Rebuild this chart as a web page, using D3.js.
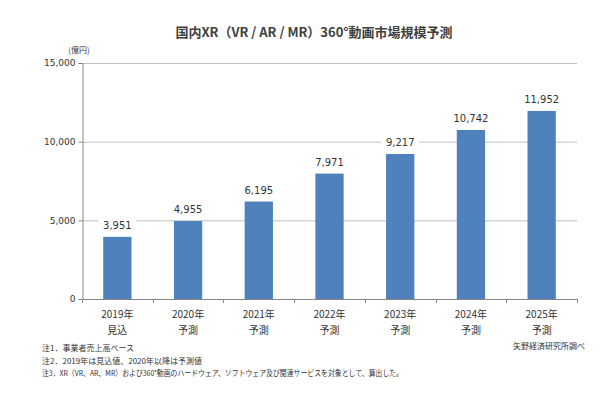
<!DOCTYPE html>
<html>
<head>
<meta charset="utf-8">
<script src="https://cdn.jsdelivr.net/npm/d3@7/dist/d3.min.js"></script>
<style>
  body { margin: 0; background: #fff; }
  svg { display: block; }
</style>
</head>
<body>
<div id="chart"></div>
<script>
// DATA
var years = ["2019年", "2020年", "2021年", "2022年", "2023年", "2024年", "2025年"];
var kinds = ["見込", "予測", "予測", "予測", "予測", "予測", "予測"];
var values = [3951, 4955, 6195, 7971, 9217, 10742, 11952];
var yTicks = [0, 5000, 10000, 15000];
var notes = [
  "注1．事業者売上高ベース",
  "注2．2019年は見込値、2020年以降は予測値",
  "注3．XR（VR、AR、MR）および360°動画のハードウェア、ソフトウェア及び関連サービスを対象として、算出した。"
];

// SIZES
var W = 600, H = 399;
var plot = {left: 82, right: 577, top: 63, bottom: 299};
var font = "'DejaVu Sans', Verdana, sans-serif";
var jfont = "'Noto Sans CJK JP', 'Noto Sans', sans-serif";

var svg = d3.select("#chart").append("svg")
    .attr("width", W).attr("height", H);

var x = d3.scaleBand().domain(years)
    .range([plot.left, plot.right])
    .paddingInner(0.6).paddingOuter(0.3);
var y = d3.scaleLinear().domain([0, 15000]).range([plot.bottom, plot.top]);

// title
svg.append("text")
    .attr("x", 314).attr("y", 37)
    .attr("text-anchor", "middle")
    .style("font-family", jfont).style("font-size", "13px").style("font-weight", "bold")
    .style("fill", "#404040")
    .text("国内XR（VR / AR / MR）360°動画市場規模予測");

// gridlines
svg.append("g").selectAll("line")
    .data(yTicks.filter(function(d) { return d > 0; }))
  .enter().append("line")
    .attr("x1", plot.left).attr("x2", plot.right)
    .attr("y1", function(d) { return y(d) + 0.5; })
    .attr("y2", function(d) { return y(d) + 0.5; })
    .style("stroke", "#c0c0c0").style("stroke-width", 1);

// y axis
var yAxis = svg.append("g")
    .attr("transform", "translate(" + (plot.left + 0.5) + ",0)")
    .call(d3.axisLeft(y).tickValues(yTicks).tickSize(4).tickPadding(3)
      .tickFormat(d3.format(",")));
yAxis.select(".domain").style("stroke", "#868686");
yAxis.selectAll(".tick line").style("stroke", "#868686");
yAxis.selectAll("text")
    .style("font-family", font).style("font-size", "9px").style("fill", "#333");

svg.append("text")
    .attr("x", 79).attr("y", 53)
    .attr("text-anchor", "middle")
    .style("font-family", jfont).style("font-size", "8px").style("fill", "#333")
    .text("(億円)");

// bars
svg.append("g").selectAll("rect")
    .data(values)
  .enter().append("rect")
    .attr("x", function(d, i) { return x(years[i]); })
    .attr("y", function(d) { return y(d); })
    .attr("width", x.bandwidth())
    .attr("height", function(d) { return y(0) - y(d); })
    .style("fill", "#4f81bd");

// value labels with white background
var lab = svg.append("g").selectAll("g")
    .data(values)
  .enter().append("g")
    .attr("transform", function(d, i) {
      return "translate(" + (x(years[i]) + x.bandwidth() / 2) + "," + (y(d) - 8) + ")";
    });
lab.append("rect")
    .attr("x", -19).attr("y", -11).attr("width", 38).attr("height", 14)
    .style("fill", "#fff");
lab.append("text")
    .attr("text-anchor", "middle")
    .style("font-family", font).style("font-size", "10px").style("fill", "#333")
    .text(function(d) { return d3.format(",")(d); });

// x axis
var step = (plot.right - plot.left) / years.length;
var xg = svg.append("g");
xg.append("line")
    .attr("x1", plot.left).attr("x2", plot.right)
    .attr("y1", plot.bottom + 0.5).attr("y2", plot.bottom + 0.5)
    .style("stroke", "#868686");
xg.selectAll(".tk")
    .data(d3.range(years.length + 1))
  .enter().append("line")
    .attr("x1", function(i) { return Math.round(plot.left + i * step) + 0.5; })
    .attr("x2", function(i) { return Math.round(plot.left + i * step) + 0.5; })
    .attr("y1", plot.bottom).attr("y2", plot.bottom + 4)
    .style("stroke", "#868686");
xg.selectAll(".yr")
    .data(years)
  .enter().append("text")
    .attr("x", function(d) { return x(d) + x.bandwidth() / 2; })
    .attr("y", 318)
    .attr("text-anchor", "middle")
    .style("font-family", jfont).style("font-size", "10px").style("fill", "#333")
    .text(function(d) { return d; });
xg.selectAll(".kd")
    .data(kinds)
  .enter().append("text")
    .attr("x", function(d, i) { return x(years[i]) + x.bandwidth() / 2; })
    .attr("y", 334)
    .attr("text-anchor", "middle")
    .style("font-family", jfont).style("font-size", "10px").style("fill", "#333")
    .text(function(d) { return d; });

// notes
svg.append("g").selectAll("text")
    .data(notes)
  .enter().append("text")
    .attr("x", 42)
    .attr("y", function(d, i) { return 351 + i * 12.5; })
    .style("font-family", jfont).style("font-size", "8px").style("fill", "#333")
    .each(function(d, i) {
      // last note is set in a narrow font in the original
      if (i === notes.length - 1) {
        d3.select(this).attr("textLength", 361).attr("lengthAdjust", "spacingAndGlyphs");
      }
    })
    .text(function(d) { return d; });

svg.append("text")
    .attr("x", 585).attr("y", 349)
    .attr("text-anchor", "end")
    .style("font-family", jfont).style("font-size", "8px").style("fill", "#333")
    .text("矢野経済研究所調べ");
</script>
</body>
</html>
